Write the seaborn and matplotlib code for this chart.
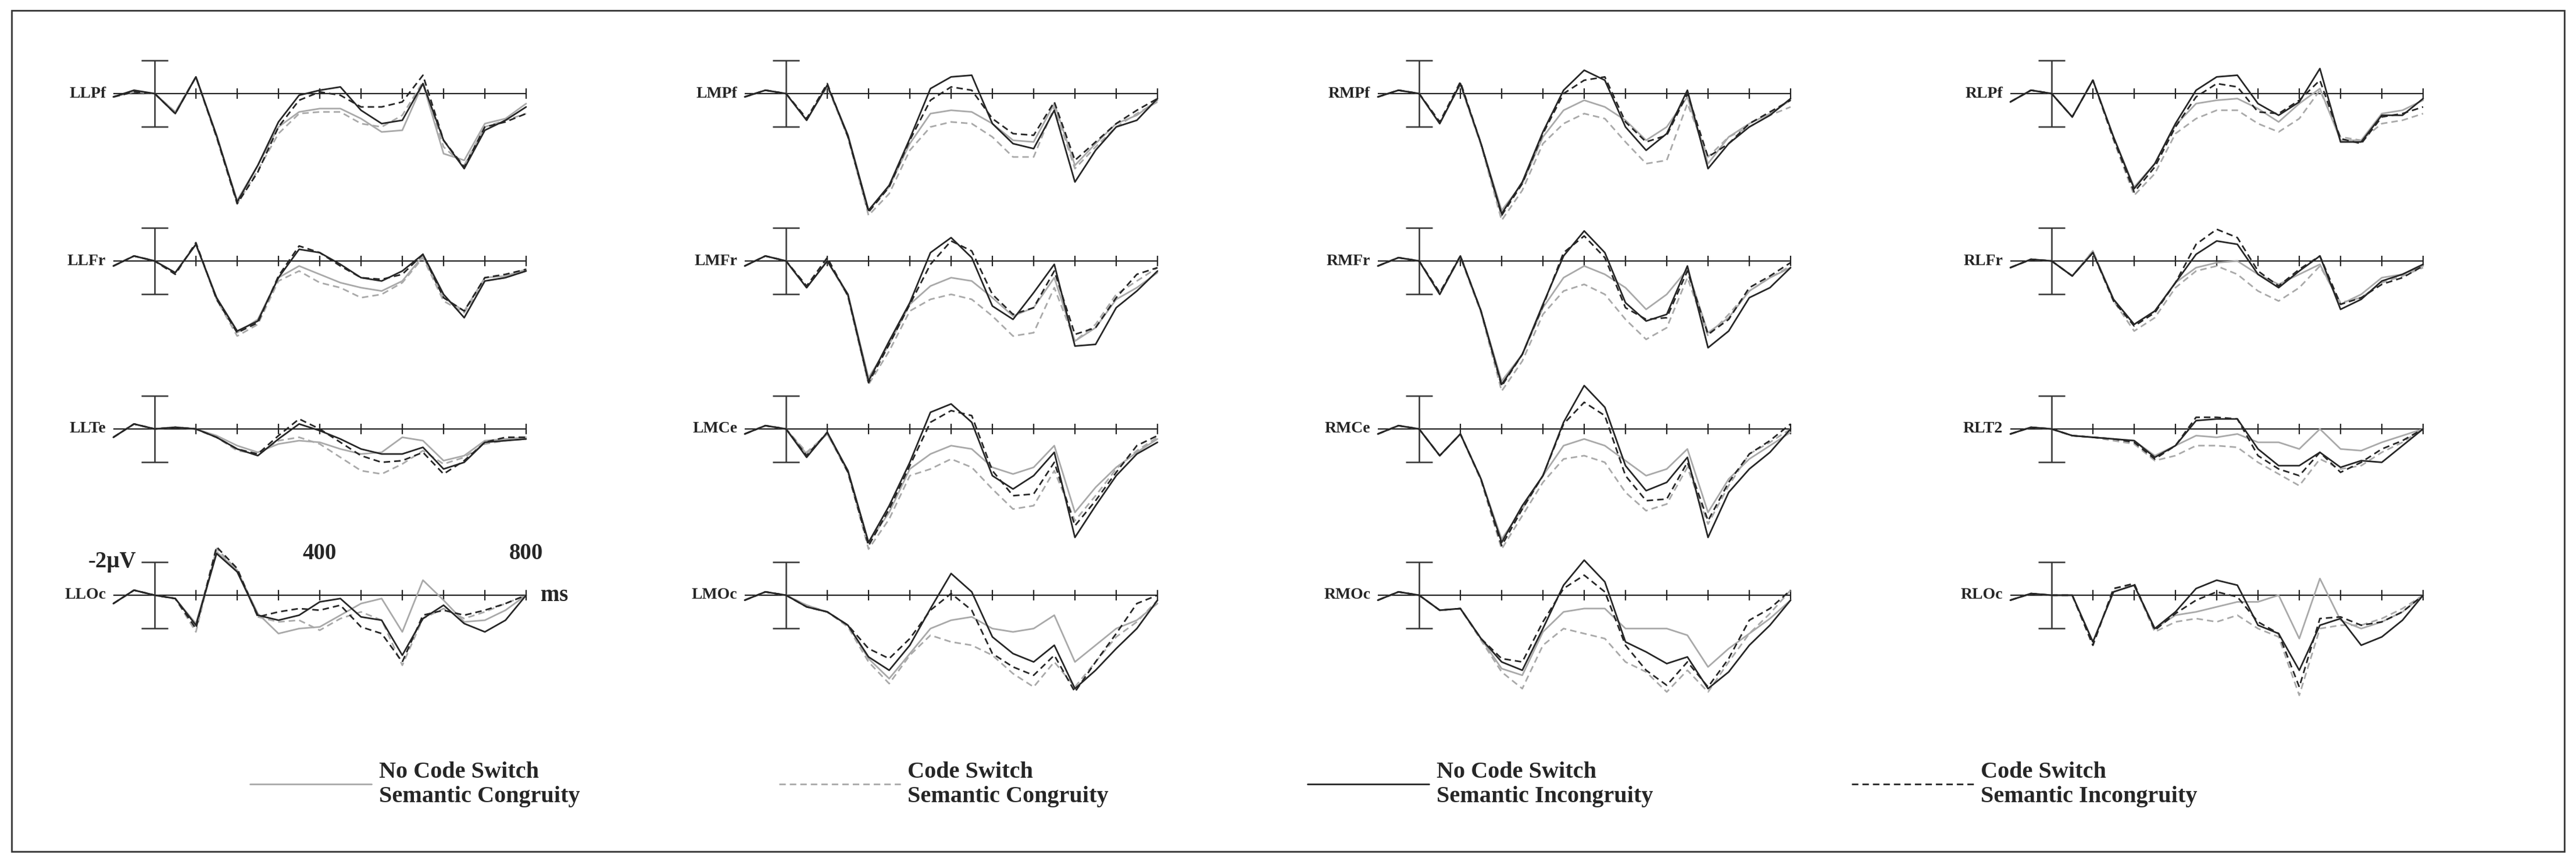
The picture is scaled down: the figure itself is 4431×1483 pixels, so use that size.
import matplotlib
matplotlib.use('Agg')
import matplotlib.pyplot as plt
import seaborn as sns
from matplotlib.patches import Rectangle
from matplotlib.lines import Line2D

sns.set_theme(style='white')
plt.rcParams['font.family'] = ['Liberation Serif', 'DejaVu Serif']

# time points (ms), values in microvolts (positive plotted downward)
times = list(range(-100, 901, 50))

channels = [['LLPf', 'LLFr', 'LLTe', 'LLOc'],
            ['LMPf', 'LMFr', 'LMCe', 'LMOc'],
            ['RMPf', 'RMFr', 'RMCe', 'RMOc'],
            ['RLPf', 'RLFr', 'RLT2', 'RLOc']]

# No Code Switch / Semantic Congruity
ncs_sc = {
    'LLPf': [0.2,-0.1,0,1.1,-1.0,2.6,6.4,4.3,2.0,1.1,0.9,0.9,1.5,2.3,2.2,-0.6,3.6,4.0,1.8,1.5,0.6],
    'LLFr': [0.3,-0.3,0,0.7,-1.0,2.2,4.3,3.5,1.0,0.3,0.8,1.3,1.6,1.8,1.2,-0.3,2.2,3.0,1.0,0.9,0.5],
    'LLTe': [0.5,-0.3,0,-0.1,0,0.4,1.0,1.4,0.9,0.7,0.8,1.2,1.5,1.4,0.5,0.7,1.9,1.6,0.7,0.6,0.5],
    'LLOc': [0.5,-0.3,0,0.2,1.7,-2.6,-1.5,1.1,2.3,2.0,1.9,1.2,0.5,0.2,2.2,-0.9,0.3,1.6,1.5,0.9,0],
    'LMPf': [0.2,-0.2,0,1.6,-0.5,2.5,7.0,5.6,3.0,1.2,1.0,1.1,1.8,2.8,2.9,0.6,4.3,3.0,1.8,1.3,0.4],
    'LMFr': [0.3,-0.3,0,1.6,0,2.0,7.0,5.0,2.6,1.5,1.0,1.2,2.2,3.3,2.8,1.0,4.8,4.0,2.3,1.6,0.7],
    'LMCe': [0.3,-0.2,0,1.5,0.3,2.5,6.8,5.0,2.4,1.5,1.0,1.2,2.3,2.7,2.3,1.0,5.0,3.5,2.3,1.4,0.6],
    'LMOc': [0.3,-0.2,0,0.6,1.0,1.8,3.8,5.0,3.5,2.0,1.5,1.3,2.0,2.2,2.0,1.2,4.0,3.0,2.0,1.5,0.5],
    'RMPf': [0.2,-0.2,0,1.8,-0.6,3.0,7.0,5.4,2.6,1.0,0.4,0.8,1.6,2.8,2.0,0.2,4.2,2.6,1.8,1.2,0.4],
    'RMFr': [0.3,-0.2,0,2.0,-0.3,3.0,7.2,5.6,2.8,1.0,0.3,0.8,1.6,2.9,2.0,0.5,4.3,3.4,1.8,1.0,0.4],
    'RMCe': [0.3,-0.2,0,1.6,0.3,3.0,6.6,4.8,2.8,1.0,0.6,1.0,1.9,2.8,2.4,1.2,5.0,3.0,1.8,1.0,0.2],
    'RMOc': [0.3,-0.2,0,0.9,0.8,2.6,4.4,4.8,2.2,1.0,0.8,0.8,2.0,2.0,2.0,2.4,4.3,3.2,2.3,1.4,0.3],
    'RLPf': [0.5,-0.2,0,1.4,-0.8,2.6,5.6,4.2,1.9,0.6,0.4,0.3,0.9,1.7,0.6,-0.3,2.8,2.8,1.2,1.0,0.4],
    'RLFr': [0.4,-0.1,0,0.9,-0.6,2.3,3.8,3.0,1.3,0.4,0.1,0.0,0.8,1.4,0.8,0.2,2.6,2.0,1.0,0.8,0.3],
    'RLT2': [0.3,-0.1,0,0.4,0.5,0.6,0.7,1.6,1.0,0.4,0.5,0.3,0.8,0.8,1.2,0.0,1.2,1.3,0.8,0.4,0.0],
    'RLOc': [0.3,-0.1,0,0.0,2.8,-0.2,-0.6,2.0,1.2,1.0,0.7,0.4,0.4,0.0,2.6,-1.0,1.5,2.0,1.6,1.0,0.0],
}

# Code Switch / Semantic Congruity
cs_sc = {
    'LLPf': [0.2,-0.1,0,1.1,-1.0,2.6,6.6,4.6,2.4,1.2,1.1,1.1,1.8,2.0,1.3,-0.7,3.2,4.3,2.0,1.6,1.2],
    'LLFr': [0.3,-0.3,0,0.7,-1.0,2.3,4.5,3.8,1.2,0.6,1.3,1.6,2.2,2.0,1.3,-0.2,2.4,3.1,1.2,1.0,0.6],
    'LLTe': [0.5,-0.3,0,-0.1,0,0.5,1.3,1.5,0.7,0.5,0.9,1.7,2.5,2.7,2.1,1.3,2.1,1.7,0.9,0.7,0.6],
    'LLOc': [0.5,-0.3,0,0.2,2.2,-2.8,-1.5,1.3,1.6,1.5,2.1,1.4,1.0,1.5,4.2,1.4,0.8,1.4,1.0,0.5,0],
    'LMPf': [0.2,-0.2,0,1.5,-0.4,2.6,7.3,6.0,3.4,2.0,1.7,1.8,2.6,3.8,3.8,0.8,4.5,3.2,2.0,1.2,0.5],
    'LMFr': [0.3,-0.3,0,1.5,0,2.1,7.4,5.4,3.0,2.3,2.0,2.3,3.3,4.5,4.3,1.6,4.8,3.8,2.0,1.2,0.4],
    'LMCe': [0.3,-0.2,0,1.4,0.3,2.6,7.2,5.4,2.8,2.4,1.8,2.3,3.6,4.8,4.6,2.5,5.5,4.0,2.4,1.3,0.5],
    'LMOc': [0.3,-0.2,0,0.6,1.0,1.9,4.0,5.3,3.6,2.4,2.8,3.0,3.6,4.7,5.5,4.0,5.5,4.0,2.5,1.6,0.3],
    'RMPf': [0.2,-0.2,0,1.7,-0.5,3.1,7.6,5.8,3.0,1.8,1.2,1.5,2.9,4.2,4.0,0.6,3.8,2.6,2.0,1.3,0.8],
    'RMFr': [0.3,-0.2,0,1.9,-0.2,3.1,7.8,6.0,3.2,1.8,1.4,2.0,3.5,4.7,4.0,1.0,4.5,3.2,1.8,1.0,0.3],
    'RMCe': [0.3,-0.2,0,1.6,0.3,3.1,7.2,5.2,3.2,1.8,1.6,2.0,3.8,4.9,4.5,2.3,5.7,3.4,1.5,0.8,0.0],
    'RMOc': [0.3,-0.2,0,0.9,0.8,2.7,4.6,5.6,3.0,2.0,2.3,2.6,4.0,4.6,5.8,4.5,5.8,4.0,2.3,1.1,-0.3],
    'RLPf': [0.5,-0.2,0,1.4,-0.8,2.8,6.1,4.8,2.4,1.5,1.0,1.0,1.8,2.3,1.5,-0.2,2.6,2.8,1.8,1.6,1.2],
    'RLFr': [0.4,-0.1,0,0.9,-0.6,2.4,4.2,3.4,1.6,0.6,0.3,0.8,1.8,2.4,1.6,0.3,2.5,2.2,1.3,0.9,0.4],
    'RLT2': [0.3,-0.1,0,0.4,0.5,0.7,0.9,1.9,1.6,1.0,1.0,1.1,2.0,2.7,3.4,1.8,2.4,2.2,1.4,0.8,0.0],
    'RLOc': [0.3,-0.1,0,0.0,3.0,-0.4,-0.6,2.2,1.6,1.4,1.6,1.2,2.0,2.5,6.0,2.0,1.8,1.8,1.4,0.8,0.0],
}

# No Code Switch / Semantic Incongruity
ncs_si = {
    'LLPf': [0.2,-0.2,0,1.2,-1.0,2.5,6.5,4.3,1.7,0.1,-0.2,-0.4,1.0,1.8,1.6,-0.6,2.8,4.5,2.2,1.6,0.8],
    'LLFr': [0.3,-0.3,0,0.7,-1.0,2.2,4.2,3.6,1.0,-0.7,-0.5,0.2,1.0,1.2,0.6,-0.4,2.0,3.4,1.2,1.0,0.6],
    'LLTe': [0.5,-0.3,0,-0.1,0,0.5,1.2,1.6,0.6,-0.3,0.1,0.6,1.2,1.5,1.5,1.1,2.4,2.0,0.8,0.7,0.6],
    'LLOc': [0.5,-0.3,0,0.2,1.8,-2.5,-1.4,1.2,1.5,1.2,0.4,0.2,1.3,1.5,3.6,1.4,0.6,1.7,2.2,1.5,0],
    'LMPf': [0.2,-0.2,0,1.6,-0.5,2.5,7.0,5.5,2.7,-0.3,-1.0,-1.1,1.8,3.0,3.3,1.0,5.3,3.4,2.0,1.6,0.3],
    'LMFr': [0.3,-0.3,0,1.6,0,2.0,7.2,4.8,2.5,-0.5,-1.4,-0.2,2.7,3.5,1.9,0.2,5.1,5.0,2.8,1.8,0.6],
    'LMCe': [0.3,-0.2,0,1.7,0.2,2.5,6.8,4.6,2.0,-1.0,-1.5,-0.4,2.8,3.6,2.8,1.4,6.5,4.6,2.8,1.5,0.8],
    'LMOc': [0.3,-0.2,0,0.7,1.0,1.8,3.7,4.5,3.0,0.8,-1.3,-0.2,2.5,3.5,4.0,3.0,5.6,4.5,3.2,2.0,0.3],
    'RMPf': [0.2,-0.2,0,1.8,-0.6,3.0,7.2,5.3,2.3,-0.2,-1.4,-0.8,2.0,3.4,2.4,-0.2,4.5,3.0,2.0,1.3,0.3],
    'RMFr': [0.3,-0.2,0,2.0,-0.3,3.0,7.4,5.6,2.6,-0.3,-1.8,-0.5,2.5,3.6,3.2,0.3,5.2,4.2,2.2,1.6,0.4],
    'RMCe': [0.3,-0.2,0,1.6,0.3,3.0,6.8,4.6,2.8,-0.4,-2.6,-1.3,2.2,3.7,3.2,1.7,6.5,3.8,2.4,1.4,0.0],
    'RMOc': [0.3,-0.2,0,0.9,0.8,2.6,4.0,4.5,2.0,-0.6,-2.1,-0.8,2.8,3.4,4.1,3.7,5.6,4.6,3.0,1.8,0.3],
    'RLPf': [0.5,-0.2,0,1.4,-0.8,2.6,5.7,4.2,1.8,-0.2,-1.0,-1.1,0.6,1.3,0.5,-1.5,2.9,2.9,1.3,1.3,0.3],
    'RLFr': [0.4,-0.1,0,0.9,-0.5,2.3,3.8,3.0,1.3,-0.4,-1.2,-1.0,0.8,1.6,0.6,-0.3,2.9,2.3,1.2,0.8,0.2],
    'RLT2': [0.3,-0.1,0,0.4,0.5,0.6,0.7,1.7,1.0,-0.5,-0.6,-0.6,1.2,2.2,2.2,1.4,2.3,1.9,2.0,1.0,0.0],
    'RLOc': [0.3,-0.1,0,0.0,2.8,-0.2,-0.6,2.0,1.0,-0.4,-0.9,-0.6,1.8,2.3,4.5,1.8,1.4,3.0,2.5,1.5,0.0],
}

# Code Switch / Semantic Incongruity
cs_si = {
    'LLPf': [0.2,-0.1,0,1.2,-1.0,2.6,6.6,4.7,2.0,0.4,-0.1,0.1,0.8,0.8,0.5,-1.1,2.8,4.4,2.0,1.7,1.2],
    'LLFr': [0.3,-0.3,0,0.8,-1.1,2.3,4.3,3.7,0.9,-0.9,-0.5,0.3,1.0,1.1,0.8,-0.4,2.2,3.0,1.0,0.8,0.5],
    'LLTe': [0.5,-0.3,0,-0.1,0,0.5,1.2,1.5,0.4,-0.6,0.0,0.8,1.6,2.0,1.9,1.4,2.7,1.9,0.8,0.5,0.5],
    'LLOc': [0.5,-0.3,0,0.2,2.0,-2.9,-1.6,1.3,1.0,0.8,0.9,0.6,1.9,2.3,4.0,1.2,0.9,1.2,0.9,0.5,0],
    'LMPf': [0.2,-0.2,0,1.5,-0.6,2.6,7.1,5.6,2.8,0.4,-0.4,-0.2,1.5,2.4,2.5,0.5,4.0,2.9,1.8,1.0,0.3],
    'LMFr': [0.3,-0.3,0,1.5,-0.2,2.1,7.3,5.0,2.6,0.2,-1.2,-0.6,2.0,3.2,2.8,0.6,4.4,4.0,2.2,0.8,0.4],
    'LMCe': [0.3,-0.2,0,1.6,0.2,2.6,7.0,4.8,2.2,-0.4,-1.1,-0.8,2.5,4.0,3.9,2.0,5.8,4.3,2.6,1.0,0.4],
    'LMOc': [0.3,-0.2,0,0.7,1.0,1.8,3.2,3.8,2.6,0.9,-0.1,0.9,3.5,4.3,4.8,3.6,5.8,4.0,2.3,0.5,0.0],
    'RMPf': [0.2,-0.2,0,1.7,-0.7,3.0,7.3,5.4,2.4,0.0,-0.8,-1.0,1.7,2.9,2.5,0.0,3.8,3.0,1.8,1.1,0.4],
    'RMFr': [0.3,-0.2,0,1.9,-0.3,3.0,7.5,5.6,2.7,-0.5,-1.5,-0.2,2.8,3.5,3.4,0.6,4.4,3.5,1.6,0.9,0.1],
    'RMCe': [0.3,-0.2,0,1.6,0.3,3.0,7.0,4.8,2.8,-0.3,-1.6,-0.8,2.8,4.3,4.2,2.0,5.5,3.2,1.5,0.7,-0.3],
    'RMOc': [0.3,-0.2,0,0.9,0.8,2.6,3.8,4.0,1.6,-0.4,-1.2,-0.2,3.0,4.5,5.4,4.0,5.5,3.8,1.5,0.8,-0.3],
    'RLPf': [0.5,-0.2,0,1.4,-0.8,2.7,5.9,4.4,2.0,0.2,-0.6,-0.4,1.1,1.2,0.4,-0.8,2.7,3.0,1.4,1.2,0.8],
    'RLFr': [0.4,-0.1,0,0.9,-0.5,2.4,3.9,3.1,1.3,-1.0,-1.9,-1.4,0.6,1.5,0.5,-0.3,2.6,2.2,1.4,1.0,0.3],
    'RLT2': [0.3,-0.1,0,0.4,0.5,0.6,0.8,1.8,1.0,-0.7,-0.7,-0.6,1.6,2.4,2.8,1.4,2.6,2.0,1.2,0.7,0.0],
    'RLOc': [0.3,-0.1,0,0.0,3.0,-0.4,-0.7,2.1,1.1,0.3,-0.2,0.1,1.6,2.3,5.5,1.4,1.3,1.8,1.6,1.0,0.0],
}

legend_labels = ['No Code Switch\nSemantic Congruity', 'Code Switch\nSemantic Congruity',
                 'No Code Switch\nSemantic Incongruity', 'Code Switch\nSemantic Incongruity']
GRAY = '#a9a9a9'
DARK = '#262626'
styles = [(ncs_sc, GRAY, '-'), (cs_sc, GRAY, (0, (4, 2.5))),
          (ncs_si, DARK, '-'), (cs_si, DARK, (0, (4, 2.5)))]

W, H = 4431, 1483
fig = plt.figure(figsize=(W / 100, H / 100), dpi=100)
fig.patches.append(Rectangle((0.0045, 0.012), 0.991, 0.976, transform=fig.transFigure,
                             fill=False, edgecolor='#333333', linewidth=2))

bar_x = [266, 1352, 2441, 3529]      # pixel x of time zero per column
zero_y = [161, 449, 738, 1024]       # pixel y of 0 uV per row
px_ms = 0.71
px_uv = 28.7
x0, x1 = -150, 1000
y0, y1 = -4.5, 9.0
ticks = list(range(100, 901, 100))

for c in range(4):
    for r in range(4):
        ch = channels[c][r]
        left = bar_x[c] + x0 * px_ms
        top = zero_y[r] + y0 * px_uv
        w = (x1 - x0) * px_ms
        h = (y1 - y0) * px_uv
        ax = fig.add_axes([left / W, 1 - (top + h) / H, w / W, h / H])
        ax.patch.set_alpha(0)
        ax.hlines(0, -100, 900, color='#222222', lw=1.6)
        ax.vlines(ticks, -0.3, 0.3, color='#222222', lw=1.6)
        ax.vlines(0, -2, 2, color='#333333', lw=1.8)
        ax.hlines([-2, 2], -32, 32, color='#333333', lw=1.8)
        for data, col, ls in styles:
            sns.lineplot(x=times, y=data[ch], ax=ax, color=col, linestyle=ls, lw=2.0)
        ax.text(-118, 0, ch, ha='right', va='center', fontsize=20, fontweight='bold')
        ax.set_xlim(x0, x1)
        ax.set_ylim(y1, y0)
        ax.axis('off')
        if c == 0 and r == 3:
            ax.text(-45, -2, '-2\u00b5V', ha='right', va='center', fontsize=28, fontweight='bold')
            ax.text(400, -2.5, '400', ha='center', va='center', fontsize=28, fontweight='bold')
            ax.text(900, -2.5, '800', ha='center', va='center', fontsize=28, fontweight='bold')
            ax.text(935, 0, 'ms', ha='left', va='center', fontsize=28, fontweight='bold')

handles = [Line2D([], [], color=col, linestyle=ls, lw=2.0) for _, col, ls in styles]
fig.legend(handles, legend_labels, loc='center', bbox_to_anchor=(0.475, 0.09), ncol=4,
           frameon=False, handlelength=5.2, columnspacing=8.5, handletextpad=0.3,
           prop={'size': 29, 'weight': 'bold'})

fig.savefig('out.png', dpi=100, facecolor='white')
